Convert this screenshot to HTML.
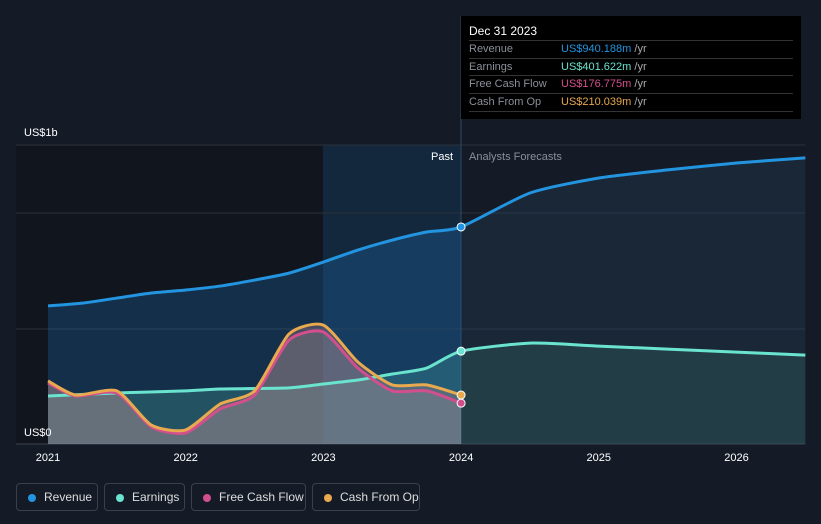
<!DOCTYPE html>
<html><head><meta charset="utf-8"><style>
body{margin:0;background:#151b26;font-family:"Liberation Sans",sans-serif;}
#wrap{position:relative;width:821px;height:524px;overflow:hidden;background:#151b26}
svg{position:absolute;left:0;top:0}
.tip{position:absolute;left:461px;top:16px;width:340px;height:103px;background:#000;color:#fff;font-size:11px}
.tip .row{position:absolute;left:8px;width:324px;border-top:1px solid #333;height:17px;line-height:17px;color:#8a8f98}
.tip .row span{position:absolute;left:92px}
.tip .row i{font-style:normal;color:#aaa}
.legend{position:absolute;top:483px;height:28px;border:1px solid #3a414d;border-radius:4px;color:#ddd;font-size:12px;line-height:27px;box-sizing:border-box;padding-left:27px}
.legend b{position:absolute;left:11px;top:10px;width:8px;height:8px;border-radius:50%}
</style></head><body>
<div id="wrap">
<svg id="svg" width="821" height="524"></svg>
<div class="tip">
 <div style="position:absolute;left:8px;top:8px;font-size:12px">Dec 31 2023</div>
 <div class="row" style="top:24px">Revenue<span style="color:#2394df">US$940.188m <i>/yr</i></span></div>
 <div class="row" style="top:42px">Earnings<span style="color:#6ae3cf">US$401.622m <i>/yr</i></span></div>
 <div class="row" style="top:59px">Free Cash Flow<span style="color:#d24f8d">US$176.775m <i>/yr</i></span></div>
 <div class="row" style="top:77px;border-bottom:1px solid #333">Cash From Op<span style="color:#e8a94f">US$210.039m <i>/yr</i></span></div>
</div>
<div class="legend" style="left:16px;width:82px"><b style="background:#2394df"></b>Revenue</div>
<div class="legend" style="left:104px;width:81px"><b style="background:#6ae3cf"></b>Earnings</div>
<div class="legend" style="left:191px;width:115px"><b style="background:#d24f8d"></b>Free Cash Flow</div>
<div class="legend" style="left:312px;width:108px"><b style="background:#e8a94f"></b>Cash From Op</div>
</div>
<script>
const revT=[2021,2021.25,2021.5,2021.75,2022,2022.25,2022.5,2022.75,2023,2023.25,2023.5,2023.75,2024,2024.5,2025,2025.5,2026,2026.5];
const revV=[598,610,632,654,667,684,710,740,788,840,883,918,940,1087,1152,1187,1217,1239];
const earnT=[2021,2021.5,2022,2022.25,2022.75,2023,2023.25,2023.5,2023.75,2024,2024.5,2025,2025.5,2026,2026.5];
const earnV=[208,221,230,238,243,260,277,303,329,402,437,424,411,398,385];
const cfT=[2021,2021.2,2021.5,2021.75,2022,2022.25,2022.5,2022.75,2023,2023.25,2023.5,2023.75,2024];
const fcfV=[264,208,221,74,48,152,212,450,485,329,230,230,177];
const cfoV=[273,212,230,82,61,173,230,476,515,355,256,256,212];
const xTicks=[2021,2022,2023,2024,2025,2026];
const X=t=>48+(t-2021)*137.7, Y=v=>444-v*0.2309;
const NS="http://www.w3.org/2000/svg", svg=document.getElementById('svg');
function mk(tag,attrs,name,parent){const e=document.createElementNS(NS,tag);for(const k in attrs)e.setAttribute(k,attrs[k]);


(parent||svg).appendChild(e);return e;}
function path(ts,vs){const p=ts.map((t,i)=>[X(t),Y(vs[i])]);let d=`M${p[0][0]},${p[0][1]}`;const k=0.11;
for(let i=0;i<p.length-1;i++){const p0=p[i-1]||p[i],p1=p[i],p2=p[i+1],p3=p[i+2]||p2;
d+=`C${p1[0]+(p2[0]-p0[0])*k},${p1[1]+(p2[1]-p0[1])*k} ${p2[0]-(p3[0]-p1[0])*k},${p2[1]-(p3[1]-p1[1])*k} ${p2[0]},${p2[1]}`;}return d;}
function area(ts,vs){return path(ts,vs)+`L${X(ts[ts.length-1])},444L${X(ts[0])},444Z`;}
const defs=mk('defs',{},'defs');
const c1=mk('clipPath',{id:'past'},'clip-past',defs);mk('rect',{x:0,y:0,width:461,height:524},'clip-rect',c1);
const c2=mk('clipPath',{id:'fut'},'clip-future',defs);mk('rect',{x:461,y:0,width:400,height:524},'clip-rect',c2);
mk('rect',{x:16,y:145,width:307,height:299,fill:'#11151d'},'past-background');
mk('rect',{x:323,y:145,width:138,height:299,fill:'#13283d'},'highlight-band');
[145,213,329].forEach((y,i)=>mk('line',{x1:16,x2:805,y1:y,y2:y,stroke:'#2a313c'},'gridline'));
mk('line',{x1:16,x2:805,y1:444,y2:444,stroke:'#3a414d'},'x-axis');
mk('line',{x1:461,x2:461,y1:16,y2:444,stroke:'#2e4a66'},'divider-line');
mk('path',{d:area(revT,revV),fill:'rgba(30,110,180,0.3)','clip-path':'url(#past)'},'revenue-area-past');
mk('path',{d:area(revT,revV),fill:'rgba(40,80,120,0.22)','clip-path':'url(#fut)'},'revenue-area-forecast');
mk('path',{d:area(earnT,earnV),fill:'rgba(90,210,190,0.22)','clip-path':'url(#past)'},'earnings-area-past');
mk('path',{d:area(earnT,earnV),fill:'rgba(60,120,110,0.28)','clip-path':'url(#fut)'},'earnings-area-forecast');
mk('path',{d:area(cfT,cfoV),fill:'rgba(200,140,140,0.3)'},'cfo-area');
mk('path',{d:area(cfT,fcfV),fill:'rgba(150,150,160,0.25)'},'fcf-area');
mk('path',{d:path(revT,revV),stroke:'#2394df',fill:'none','stroke-width':3},'revenue-line');
mk('path',{d:path(earnT,earnV),stroke:'#6ae3cf',fill:'none','stroke-width':3},'earnings-line');
mk('path',{d:path(cfT,fcfV),stroke:'#d24f8d',fill:'none','stroke-width':3},'fcf-line');
mk('path',{d:path(cfT,cfoV),stroke:'#e8a94f',fill:'none','stroke-width':3},'cfo-line');
[[revV[12],'#2394df'],[earnV[9],'#6ae3cf'],[cfoV[12],'#e8a94f'],[fcfV[12],'#d24f8d']].forEach(a=>
 mk('circle',{cx:X(2024),cy:Y(a[0]),r:4,fill:a[1],stroke:'#fff','stroke-width':1},'end-marker'));
xTicks.forEach(t=>{const e=mk('text',{x:X(t),y:461,fill:'#fff','font-size':11,'text-anchor':'middle'},'x-tick-label');e.textContent=t;});
let e=mk('text',{x:24,y:136,fill:'#fff','font-size':11},'y-label-max');e.textContent='US$1b';
e=mk('text',{x:24,y:436,fill:'#fff','font-size':11},'y-label-zero');e.textContent='US$0';
e=mk('text',{x:453,y:160,fill:'#fff','font-size':11,'text-anchor':'end'},'past-label');e.textContent='Past';
e=mk('text',{x:469,y:160,fill:'#8a8f98','font-size':11},'forecast-label');e.textContent='Analysts Forecasts';
</script>
</body></html>
